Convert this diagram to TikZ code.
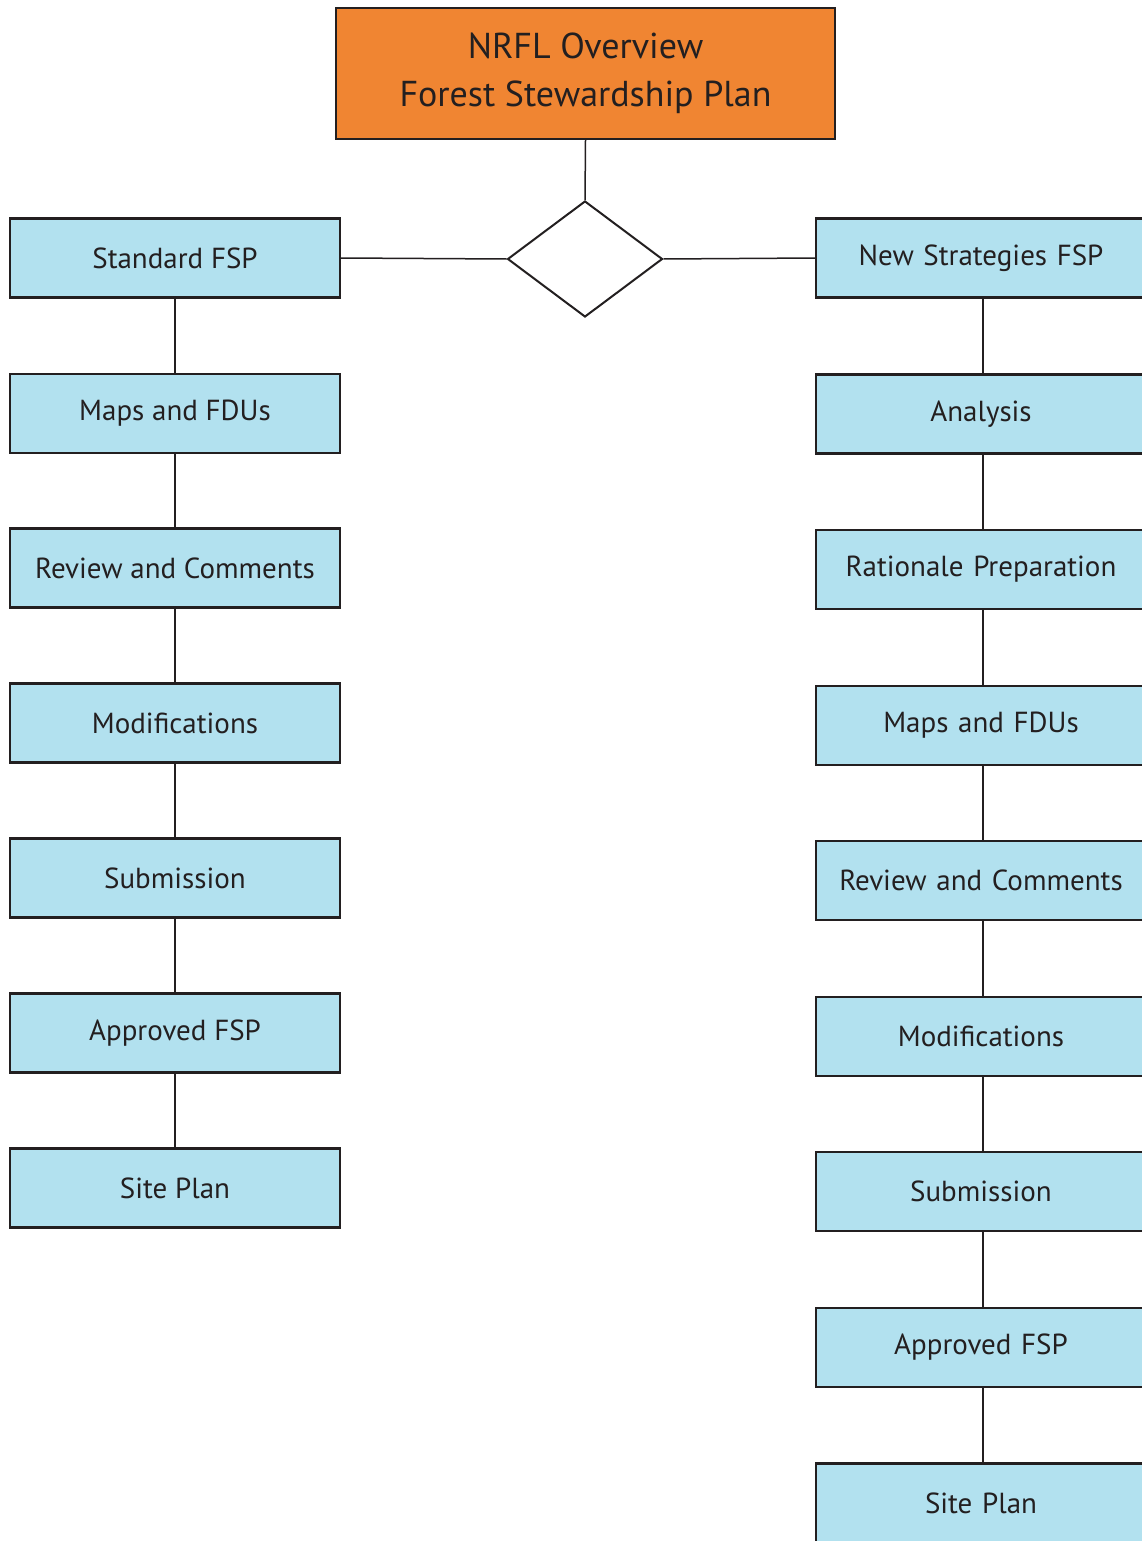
\documentclass[tikz,border=0pt]{standalone}
\usepackage{fontspec}
\setmainfont{PT Sans}
\usetikzlibrary{shapes.geometric}
\definecolor{boxblue}{HTML}{B2E1EF}
\definecolor{topor}{HTML}{F08532}
\definecolor{ink}{HTML}{231F20}
\tikzset{
  stepbox/.style={draw=ink, line width=2.2pt, fill=boxblue, minimum width=330pt, minimum height=79pt, inner sep=0pt, font=\fontsize{29}{33}\selectfont, text=ink},
  topbox/.style={draw=ink, line width=2.2pt, fill=topor, minimum width=499pt, minimum height=131pt, inner sep=0pt, align=center, font=\fontsize{36}{48}\selectfont, text=ink},
  link/.style={draw=ink, line width=1.5pt},
}
\begin{document}
\begin{tikzpicture}[x=1pt,y=-1pt]
\useasboundingbox (0,0) rectangle (1141,1541);
\fill[white] (0,0) rectangle (1141,1541);
\node[topbox] (top) at (585.5,73.5) {NRFL Overview\\Forest Stewardship Plan};
\node[diamond, draw=ink, line width=2pt, fill=white, minimum width=155pt, minimum height=116pt, inner sep=0pt, aspect=1.34] (dia) at (585,259) {};
% left column
\node[stepbox] (l1) at (175,258) {Standard FSP};
\node[stepbox] (l2) at (175,413.5) {Maps and FDUs};
\node[stepbox] (l3) at (175,568) {Review and Comments};
\node[stepbox] (l4) at (175,723) {Modifications};
\node[stepbox] (l5) at (175,878) {Submission};
\node[stepbox] (l6) at (175,1033) {Approved FSP};
\node[stepbox] (l7) at (175,1188) {Site Plan};
% right column
\tikzset{rightbox/.style={stepbox, text width=322pt, align=center}}
\node[rightbox] (r1) at (981,258) {New Strategies FSP};
\node[rightbox] (r2) at (981,414) {Analysis};
\node[rightbox] (r3) at (981,569.5) {Rationale Preparation};
\node[rightbox] (r4) at (981,725.5) {Maps and FDUs};
\node[rightbox] (r5) at (981,880.5) {Review and Comments};
\node[rightbox] (r6) at (981,1036.5) {Modifications};
\node[rightbox] (r7) at (981,1191.5) {Submission};
\node[rightbox] (r8) at (981,1347.5) {Approved FSP};
\node[rightbox] (r9) at (981,1503) {Site Plan};
% connectors
\draw[link] (top.south) -- (dia.north);
\draw[link] (dia.west) -- (l1.east);
\draw[link] (dia.east) -- (r1.west);
\foreach \a/\b in {l1/l2,l2/l3,l3/l4,l4/l5,l5/l6,l6/l7}
  \draw[link] (\a.south) -- (\b.north);
\foreach \a/\b in {r1/r2,r2/r3,r3/r4,r4/r5,r5/r6,r6/r7,r7/r8,r8/r9}
  \draw[link] ([xshift=2pt]\a.south) -- ([xshift=2pt]\b.north);
\end{tikzpicture}
\end{document}
